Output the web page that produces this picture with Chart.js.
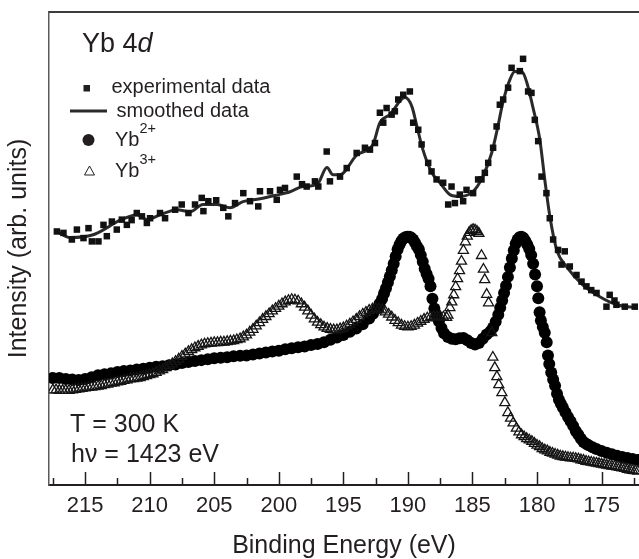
<!DOCTYPE html>
<html>
<head>
<meta charset="utf-8">
<title>Yb 4d photoemission</title>
<script src="https://cdn.jsdelivr.net/npm/chart.js@4.4.1/dist/chart.umd.min.js"></script>
<style>
  html, body { margin: 0; padding: 0; background: #fff; overflow: hidden; }
  #wrap { width: 639px; height: 559px; }
  #yb4d { display: block; }
</style>
</head>
<body>
<div id="wrap"><canvas id="yb4d" width="639" height="559"></canvas></div>
<script>
// Yb 4d spectrum, T = 300 K, hv = 1423 eV. Energies in eV, intensity in arb. units (0-100).

const xTickValues = [217.5, 215, 212.5, 210, 207.5, 205, 202.5, 200, 197.5, 195, 192.5, 190,
                     187.5, 185, 182.5, 180, 177.5, 175, 172.5];
const xTickLabels = [215, 210, 205, 200, 195, 190, 185, 180, 175];

// raw spectrum (squares)
const expEnergy = [
  217.19, 216.68, 216.03, 215.64, 215.13, 214.74, 214.48, 213.97, 213.58, 213.32,
  212.93, 212.55, 212.16, 211.77, 211.4, 211.0, 210.6, 210.22, 209.97, 209.2,
  208.81, 208.03, 207.52, 207.0, 206.49, 205.97, 205.84, 205.46, 204.85, 204.3,
  203.91, 203.39, 202.75, 202.23, 201.59, 201.46, 200.68, 200.16, 199.91, 199.52,
  198.61, 198.2, 197.84, 197.2, 196.94, 196.29, 196.04, 195.26, 194.74, 193.97,
  193.33, 192.94, 192.55, 192.17, 191.91, 191.65, 191.26, 191.01, 190.75, 190.36,
  189.85, 189.59, 189.2, 188.94, 188.43, 188.17, 187.78, 187.27, 186.88, 186.62,
  186.36, 185.98, 185.72, 185.46, 184.95, 184.56, 184.3, 184.04, 183.78, 183.4,
  183.13, 182.88, 182.62, 182.24, 181.97, 181.33, 181.08, 180.69, 180.43, 180.17,
  179.91, 179.65, 179.27, 179.01, 178.75, 178.37, 178.1, 177.85, 177.46, 176.94,
  176.55, 176.17, 175.8, 175.39, 174.62, 174.37, 174.0, 173.85, 173.2, 172.43
];
const expIntensity = [
  53.6, 53.3, 51.9, 54.0, 52.2, 54.3, 51.5, 51.5, 55.0, 52.6,
  55.7, 54.0, 56.1, 55.0, 56.0, 57.5, 56.8, 55.4, 56.4, 57.5,
  56.4, 58.2, 59.3, 57.5, 59.3, 60.7, 57.9, 60.0, 60.2, 58.6,
  56.8, 59.6, 61.7, 60.0, 58.9, 62.1, 62.1, 60.3, 62.4, 62.8,
  65.2, 63.6, 63.1, 64.2, 63.1, 70.5, 64.2, 65.2, 67.0, 70.2,
  71.3, 70.9, 72.3, 78.7, 76.6, 79.7, 78.3, 79.0, 81.5, 82.5,
  83.2, 76.6, 75.1, 72.0, 68.1, 66.3, 64.6, 63.9, 59.3, 63.1,
  59.6, 61.4, 60.0, 62.4, 61.7, 64.6, 64.6, 66.0, 68.1, 71.3,
  75.8, 80.4, 81.5, 84.0, 88.2, 87.5, 90.1, 83.2, 82.9, 77.2,
  72.7, 65.2, 61.7, 56.4, 51.9, 49.7, 46.6, 49.4, 46.2, 44.4,
  43.0, 42.0, 41.2, 40.6, 37.7, 40.2, 39.0, 38.1, 37.7, 37.7
];

// smoothed spectrum (solid line)
const smoothEnergy = [
  217.17, 216.16, 214.38, 213.3, 212.52, 210.98, 210.2, 209.2, 207.88, 206.87,
  205.87, 204.78, 203.78, 202.77, 201.45, 200.3, 199.13, 198.13, 197.04, 196.27,
  195.8, 195.26, 193.95, 192.71, 192.17, 191.4, 190.23, 189.69, 189.3, 188.84,
  188.14, 187.52, 186.75, 185.98, 184.97, 184.2, 183.5, 183.03, 182.65, 182.1,
  181.72, 181.18, 180.79, 180.33, 179.78, 179.4, 179.0, 178.47, 177.7, 176.46,
  175.14, 173.82, 172.28
];
const smoothIntensity = [
  53.5, 52.3, 52.9, 54.4, 55.7, 57.1, 56.1, 57.1, 58.2, 57.8,
  59.3, 59.3, 58.6, 59.9, 60.5, 61.2, 62.0, 63.1, 63.5, 67.1,
  65.6, 65.6, 69.8, 72.0, 76.6, 78.3, 81.9, 80.0, 75.8, 70.9,
  66.0, 63.9, 61.4, 61.0, 62.0, 65.2, 70.3, 75.8, 80.8, 85.7,
  87.4, 87.4, 85.1, 80.0, 73.0, 64.6, 56.7, 49.7, 46.1, 42.3,
  39.8, 38.1, 37.5
];

// Yb2+ component (filled circles)
const yb2Energy = [
  217.5, 217.0, 216.5, 216.0, 215.5, 215.0, 214.5, 214.0, 213.5, 213.0,
  212.5, 212.0, 211.5, 211.0, 210.5, 210.0, 209.5, 209.0, 208.5, 208.0,
  207.5, 207.0, 206.5, 206.0, 205.5, 205.0, 204.5, 204.0, 203.5, 203.0,
  202.5, 202.0, 201.5, 201.0, 200.5, 200.0, 199.5, 199.0, 198.5, 198.0,
  197.5, 197.0, 196.5, 196.0, 195.5, 195.0, 194.5, 194.0, 193.5, 193.0,
  192.7, 192.4, 192.2, 192.0, 191.85, 191.7, 191.55, 191.4, 191.25, 191.1,
  190.95, 190.8, 190.65, 190.5, 190.35, 190.2, 190.05, 189.9, 189.75, 189.6,
  189.45, 189.3, 189.15, 189.0, 188.85, 188.7, 188.55, 188.4, 188.25, 188.1,
  187.95, 187.8, 187.6, 187.4, 187.2, 186.9, 186.6, 186.3, 186.0, 185.7,
  185.4, 185.1, 184.8, 184.5, 184.2, 183.9, 183.6, 183.4, 183.2, 183.0,
  182.85, 182.7, 182.55, 182.4, 182.25, 182.1, 181.95, 181.8, 181.65, 181.5,
  181.35, 181.2, 181.05, 180.9, 180.75, 180.6, 180.45, 180.3, 180.15, 180.0,
  179.9, 179.8, 179.7, 179.55, 179.4, 179.25, 179.15, 179.05, 178.9, 178.75,
  178.6, 178.45, 178.3, 178.15, 178.0, 177.8, 177.6, 177.4, 177.2, 177.0,
  176.8, 176.6, 176.4, 176.2, 176.0, 175.7, 175.4, 175.0, 174.6, 174.2,
  173.8, 173.4, 173.0, 172.6, 172.2
];
const yb2Intensity = [
  22.6, 22.6, 22.4, 22.3, 22.2, 22.4, 22.8, 23.2, 23.4, 23.6,
  23.9, 24.1, 24.2, 24.4, 24.6, 24.8, 25.0, 25.1, 25.3, 25.5,
  25.8, 26.0, 26.2, 26.4, 26.6, 26.8, 26.9, 27.0, 27.2, 27.3,
  27.4, 27.6, 27.8, 28.0, 28.2, 28.4, 28.7, 28.9, 29.1, 29.3,
  29.6, 29.8, 30.2, 30.7, 31.2, 31.7, 32.4, 33.1, 34.0, 35.2,
  36.2, 37.3, 38.3, 39.3, 40.5, 41.6, 42.8, 44.1, 45.4, 46.8,
  48.3, 49.8, 50.8, 51.6, 52.1, 52.4, 52.5, 52.5, 52.3, 51.9,
  51.2, 50.5, 49.8, 48.6, 47.2, 45.7, 44.6, 43.6, 42.0, 39.4,
  37.3, 36.0, 34.6, 33.2, 32.1, 31.3, 30.9, 30.8, 31.0, 31.1,
  30.6, 30.0, 29.7, 30.0, 30.9, 31.8, 32.5, 33.3, 34.5, 36.0,
  37.5, 39.0, 40.6, 42.1, 44.0, 46.0, 47.9, 49.6, 51.0, 51.9,
  52.4, 52.5, 52.2, 51.6, 50.8, 49.9, 48.6, 46.8, 44.5, 42.0,
  39.5, 36.5, 34.8, 33.4, 32.2, 30.2, 27.4, 25.6, 23.8, 22.3,
  21.0, 19.3, 18.0, 17.2, 16.4, 15.4, 14.4, 13.5, 12.5, 11.4,
  10.6, 9.8, 9.1, 8.7, 8.4, 8.0, 7.6, 7.2, 6.8, 6.5,
  6.2, 5.9, 5.7, 5.5, 5.3
];

// Yb3+ component (open triangles)
const yb3Energy = [
  217.5, 217.25, 217.0, 216.75, 216.5, 216.25, 216.0, 215.75, 215.5, 215.25,
  215.0, 214.75, 214.5, 214.25, 214.0, 213.75, 213.5, 213.25, 213.0, 212.75,
  212.5, 212.25, 212.0, 211.75, 211.5, 211.25, 211.0, 210.75, 210.5, 210.25,
  210.0, 209.75, 209.5, 209.25, 209.0, 208.75, 208.5, 208.25, 208.0, 207.75,
  207.5, 207.25, 207.0, 206.75, 206.5, 206.25, 206.0, 205.75, 205.5, 205.25,
  205.0, 204.75, 204.5, 204.25, 204.0, 203.75, 203.5, 203.25, 203.0, 202.75,
  202.5, 202.25, 202.0, 201.75, 201.5, 201.25, 201.0, 200.75, 200.5, 200.25,
  200.0, 199.75, 199.5, 199.25, 199.0, 198.75, 198.5, 198.25, 198.0, 197.75,
  197.5, 197.25, 197.0, 196.75, 196.5, 196.25, 196.0, 195.75, 195.5, 195.25,
  195.0, 194.75, 194.5, 194.25, 194.0, 193.75, 193.5, 193.25, 193.0, 192.75,
  192.5, 192.25, 192.0, 191.75, 191.5, 191.25, 191.0, 190.75, 190.5, 190.25,
  190.0, 189.75, 189.5, 189.25, 189.0, 188.75, 188.5, 188.25, 188.0, 187.75,
  187.5, 187.25, 187.0, 186.9, 186.75, 186.6, 186.45, 186.3, 186.15, 186.0,
  185.85, 185.7, 185.55, 185.4, 185.25, 185.1, 184.95, 184.8, 184.65, 184.5,
  184.3, 184.15, 184.05, 183.9, 183.75, 183.5, 183.42, 183.27, 183.11, 182.96,
  182.72, 182.49, 182.26, 182.05, 181.85, 181.6, 181.4, 181.2, 181.0, 180.8,
  180.6, 180.4, 180.2, 180.0, 179.8, 179.6, 179.4, 179.2, 179.0, 178.8,
  178.6, 178.4, 178.2, 178.0, 177.8, 177.6, 177.4, 177.2, 177.0, 176.8,
  176.6, 176.4, 176.2, 176.0, 175.8, 175.6, 175.4, 175.2, 175.0, 174.8,
  174.6, 174.4, 174.2, 174.0, 173.8, 173.6, 173.4, 173.2, 173.0, 172.8,
  172.6, 172.4, 172.2
];
const yb3Intensity = [
  20.1, 20.1, 20.0, 20.0, 20.0, 20.0, 20.1, 20.2, 20.3, 20.4,
  20.5, 20.6, 20.7, 20.8, 20.9, 21.0, 21.2, 21.3, 21.5, 21.6,
  21.8, 21.9, 22.1, 22.2, 22.4, 22.5, 22.6, 22.7, 22.9, 23.1,
  23.3, 23.5, 23.8, 24.1, 24.4, 24.8, 25.2, 25.6, 26.1, 26.6,
  27.2, 27.7, 28.2, 28.6, 29.0, 29.3, 29.6, 29.8, 29.9, 30.0,
  30.1, 30.1, 30.2, 30.2, 30.3, 30.4, 30.5, 30.7, 30.9, 31.3,
  31.7, 32.3, 32.9, 33.6, 34.3, 35.0, 35.6, 36.2, 36.8, 37.3,
  37.8, 38.3, 38.7, 39.0, 39.2, 39.1, 38.9, 38.3, 37.6, 36.8,
  35.9, 35.1, 34.4, 33.9, 33.4, 33.1, 32.9, 32.8, 32.8, 33.0,
  33.2, 33.6, 34.0, 34.5, 35.0, 35.6, 36.1, 36.5, 36.9, 37.2,
  37.3, 37.2, 37.0, 36.6, 36.1, 35.5, 34.8, 34.3, 33.8, 33.5,
  33.4, 33.5, 33.8, 34.2, 34.6, 35.0, 35.3, 35.5, 35.6, 35.6,
  35.6, 35.5, 35.4, 35.9, 37.5, 38.7, 40.2, 41.9, 43.6, 45.3,
  47.3, 49.6, 51.4, 52.6, 53.4, 53.8, 54.0, 53.9, 53.6, 53.2,
  48.5, 45.6, 43.4, 40.3, 38.5, 32.2, 27.0, 24.8, 22.9, 21.2,
  19.5, 17.4, 15.3, 14.1, 13.1, 12.0, 11.2, 10.6, 10.2, 9.8,
  9.5, 9.2, 8.8, 8.4, 8.1, 7.7, 7.4, 7.2, 6.9, 6.7,
  6.5, 6.3, 6.1, 6.0, 5.9, 5.8, 5.7, 5.7, 5.6, 5.5,
  5.3, 5.2, 5.0, 4.9, 4.8, 4.7, 4.6, 4.5, 4.4, 4.3,
  4.2, 4.1, 4.0, 3.9, 3.8, 3.7, 3.6, 3.5, 3.3, 3.2,
  3.1, 3.0, 2.9
];

const FONT = '"Liberation Sans", Arial, Helvetica, sans-serif';
const INK = '#231f20';

function pairs(xs, ys) {
  return xs.map((x, i) => ({ x: x, y: ys[i] }));
}

function drawText(ctx, str, x, y, size, style) {
  ctx.font = (style || 'normal') + ' ' + size + 'px ' + FONT;
  ctx.fillText(str, x, y);
  return ctx.measureText(str).width;
}

// frame top edge, inward ticks, legend and labels inside the plot
const decorations = {
  id: 'decorations',
  afterDraw(chart) {
    const { ctx, chartArea: a, scales } = chart;
    const xs = scales.x;
    ctx.save();

    ctx.strokeStyle = '#3c3c3c';
    ctx.lineWidth = 2;
    ctx.beginPath();
    ctx.moveTo(a.left, a.top);
    ctx.lineTo(a.right, a.top);
    ctx.stroke();

    ctx.strokeStyle = INK;
    ctx.lineWidth = 1.5;
    xs.ticks.forEach(t => {
      const px = Math.round(xs.getPixelForValue(t.value)) + 0.5;
      const len = xTickLabels.includes(t.value) ? 13 : 7;
      ctx.beginPath();
      ctx.moveTo(px, a.bottom);
      ctx.lineTo(px, a.bottom - len);
      ctx.stroke();
    });

    ctx.fillStyle = INK;
    ctx.textBaseline = 'alphabetic';
    ctx.textAlign = 'left';

    // title
    let w = drawText(ctx, 'Yb 4', 82, 52, 27);
    drawText(ctx, 'd', 82 + w, 52, 27, 'italic');

    // legend
    ctx.fillRect(83.5, 85, 6.5, 6.5);
    drawText(ctx, 'experimental data', 111.5, 93, 20);

    ctx.strokeStyle = '#2a2a2a';
    ctx.lineWidth = 3;
    ctx.beginPath();
    ctx.moveTo(70, 111);
    ctx.lineTo(107, 111);
    ctx.stroke();
    drawText(ctx, 'smoothed data', 116.5, 117, 20);

    ctx.beginPath();
    ctx.arc(88.5, 140, 6, 0, Math.PI * 2);
    ctx.fill();
    w = drawText(ctx, 'Yb', 115, 146, 20);
    drawText(ctx, '2+', 115 + w, 132.5, 14.5);

    ctx.strokeStyle = INK;
    ctx.lineWidth = 1;
    ctx.beginPath();
    ctx.moveTo(89.5, 166);
    ctx.lineTo(94.5, 175);
    ctx.lineTo(84.5, 175);
    ctx.closePath();
    ctx.stroke();
    w = drawText(ctx, 'Yb', 115, 177, 20);
    drawText(ctx, '3+', 115 + w, 163.5, 14.5);

    // measurement conditions
    drawText(ctx, 'T = 300 K', 70, 432, 25);
    drawText(ctx, 'h\u03bd = 1423 eV', 71, 462, 25);

    ctx.restore();
  }
};

new Chart(document.getElementById('yb4d'), {
  type: 'scatter',
  data: {
    datasets: [
      {
        label: 'experimental data',
        data: pairs(expEnergy, expIntensity),
        pointStyle: 'rect',
        pointRadius: 4.6,
        pointBorderWidth: 0,
        backgroundColor: '#111',
        borderColor: '#111'
      },
      {
        label: 'smoothed data',
        data: pairs(smoothEnergy, smoothIntensity),
        showLine: true,
        cubicInterpolationMode: 'monotone',
        borderColor: '#2a2a2a',
        borderWidth: 3,
        pointRadius: 0
      },
      {
        label: 'Yb3+',
        data: pairs(yb3Energy, yb3Intensity),
        pointStyle: 'triangle',
        pointRadius: 5.8,
        pointBorderWidth: 1.3,
        backgroundColor: 'rgba(0,0,0,0)',
        borderColor: '#141414'
      },
      {
        label: 'Yb2+',
        data: pairs(yb2Energy, yb2Intensity),
        pointStyle: 'circle',
        pointRadius: 6,
        pointBorderWidth: 0,
        backgroundColor: '#000',
        borderColor: '#000'
      }
    ]
  },
  options: {
    responsive: false,
    animation: false,
    devicePixelRatio: 1,
    layout: { autoPadding: false, padding: { top: 12, right: 0, bottom: 0, left: 0 } },
    plugins: {
      legend: { display: false },
      tooltip: { enabled: false }
    },
    scales: {
      x: {
        type: 'linear',
        reverse: true,
        min: 172.1,
        max: 217.8,
        afterBuildTicks: s => { s.ticks = xTickValues.map(v => ({ value: v })); },
        afterFit: s => { s.height = 74; s.paddingLeft = 0; s.paddingRight = 0; },
        ticks: {
          autoSkip: false,
          maxRotation: 0,
          padding: 10,
          color: INK,
          font: { family: FONT, size: 22, lineHeight: 1 },
          callback: v => xTickLabels.includes(v) ? String(v) : ''
        },
        grid: { display: false, drawTicks: false },
        border: { display: true, color: INK, width: 2 },
        title: {
          display: true,
          text: 'Binding Energy (eV)',
          color: INK,
          font: { family: FONT, size: 25, lineHeight: 1 },
          padding: 0
        }
      },
      y: {
        min: 0,
        max: 100,
        afterFit: s => { s.width = 49; s.paddingTop = 0; s.paddingBottom = 0; },
        ticks: { display: false },
        grid: { display: false, drawTicks: false },
        border: { display: true, color: '#5a5a5a', width: 1.5 },
        title: {
          display: true,
          text: 'Intensity (arb. units)',
          color: INK,
          font: { family: FONT, size: 25, lineHeight: 1 },
          padding: { top: 7, bottom: 0 }
        }
      }
    }
  },
  plugins: [decorations]
});
</script>
</body>
</html>
